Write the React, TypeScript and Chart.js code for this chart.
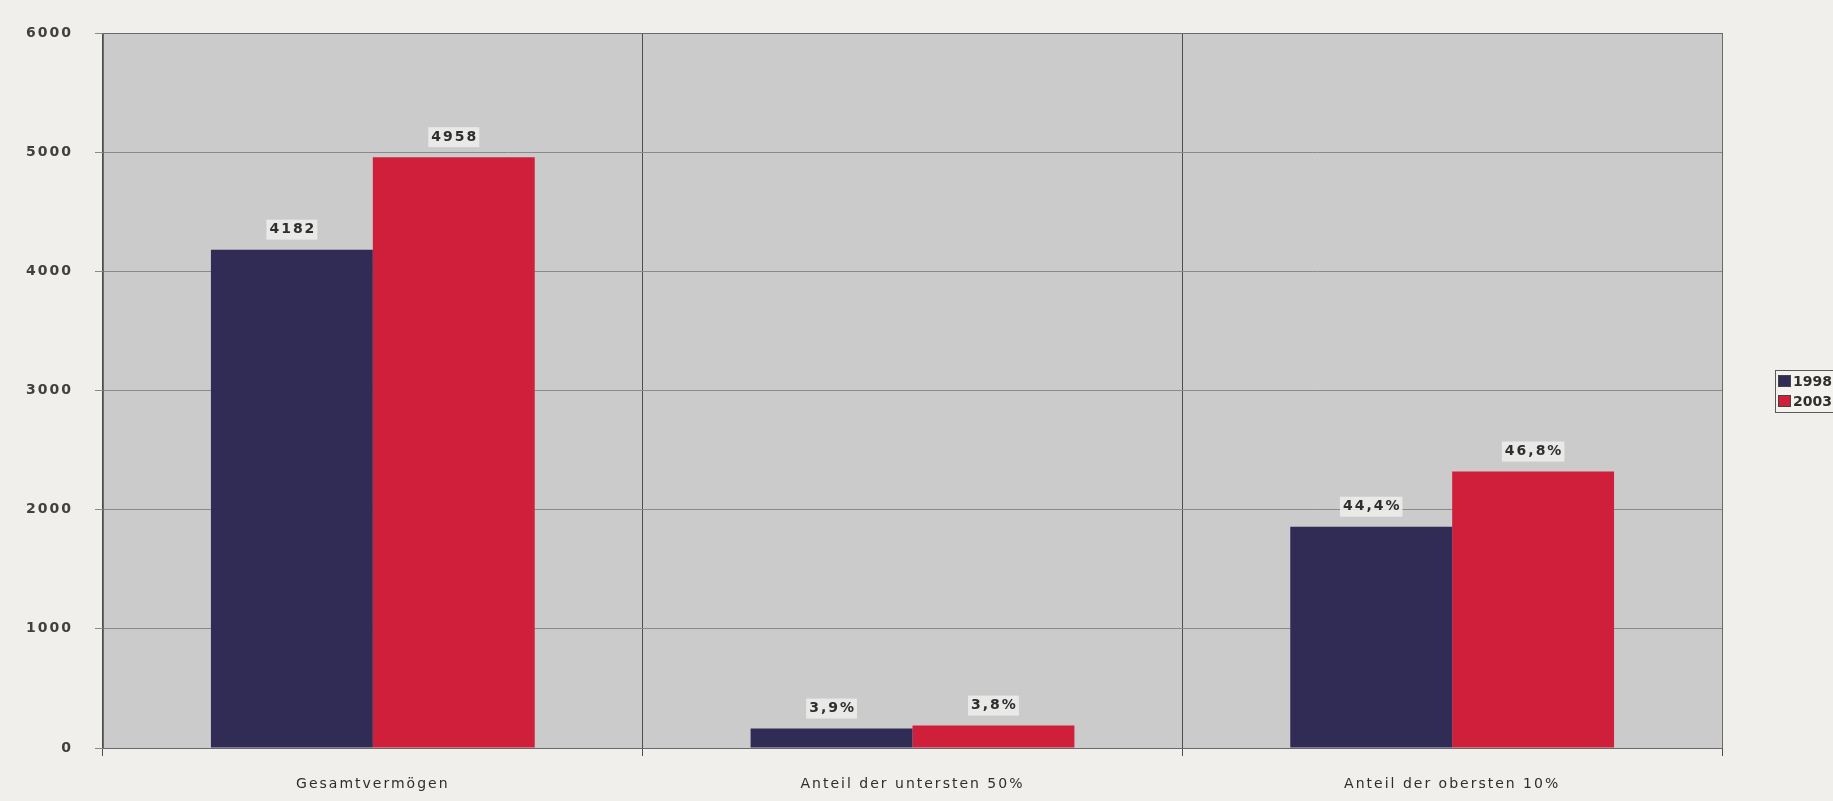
import { useEffect, useRef } from "react";
import { Chart, registerables } from "chart.js";

Chart.register(...registerables);

// Wealth totals and the share held by the bottom 50% / top 10%
const categories = ["Gesamtvermögen", "Anteil der untersten 50%", "Anteil der obersten 10%"];
const seriesNames = ["1998", "2003"];
const values1998 = [4182, 163, 1857];
const values2003 = [4958, 188, 2320];
const labels1998 = ["4182", "3,9%", "44,4%"];
const labels2003 = ["4958", "3,8%", "46,8%"];
const yMin = 0;
const yMax = 6000;
const yStep = 1000;

const COLOR_1998 = "#302c56";
const COLOR_2003 = "#cf1f3a";
const PAGE_BG = "#f0efeb";
const PLOT_BG = "#cbcbcb";
const TEXT = "#2e2e2e";
const FONT = "'DejaVu Sans', 'Liberation Sans', Arial, sans-serif";
const SPACING = "2px";

const valueLabels = [labels1998, labels2003];

const spacingPlugin = {
  id: "letterSpacing",
  beforeLayout(chart: any) {
    chart.ctx.letterSpacing = SPACING;
  },
  beforeDraw(chart: any) {
    chart.ctx.letterSpacing = SPACING;
  },
};

const backgroundPlugin = {
  id: "backgrounds",
  beforeDraw(chart: any) {
    const { ctx, chartArea, width, height } = chart;
    ctx.save();
    ctx.fillStyle = PAGE_BG;
    ctx.fillRect(0, 0, width, height);
    ctx.fillStyle = PLOT_BG;
    ctx.fillRect(chartArea.left, chartArea.top, chartArea.right - chartArea.left, chartArea.bottom - chartArea.top);
    ctx.restore();
  },
  afterDraw(chart: any) {
    const { ctx, chartArea } = chart;
    ctx.save();
    ctx.strokeStyle = "#6a6a6a";
    ctx.lineWidth = 1;
    ctx.strokeRect(chartArea.left + 0.5, chartArea.top + 0.5, chartArea.right - chartArea.left, chartArea.bottom - chartArea.top);
    ctx.restore();
  },
};

const valueLabelPlugin = {
  id: "valueLabels",
  afterDatasetsDraw(chart: any) {
    const { ctx } = chart;
    ctx.save();
    ctx.letterSpacing = SPACING;
    ctx.font = `bold 14px ${FONT}`;
    ctx.textAlign = "center";
    ctx.textBaseline = "middle";
    chart.data.datasets.forEach((_: any, i: number) => {
      const meta = chart.getDatasetMeta(i);
      meta.data.forEach((bar: any, j: number) => {
        const text = valueLabels[i][j];
        const w = ctx.measureText(text).width;
        const cx = bar.x + 1;
        const cy = bar.y - 20;
        ctx.fillStyle = "rgba(238,238,236,0.85)";
        ctx.fillRect(cx - w / 2 - 3, cy - 10, w + 4, 20);
        ctx.fillStyle = TEXT;
        ctx.fillText(text, cx, cy);
      });
    });
    ctx.restore();
  },
};

const legendPlugin = {
  id: "boxLegend",
  afterDraw(chart: any) {
    const { ctx } = chart;
    const x = 1775;
    const y = 370;
    ctx.save();
    ctx.letterSpacing = "0px";
    ctx.fillStyle = "#f3f2ee";
    ctx.fillRect(x, y, 80, 42);
    ctx.strokeStyle = "#5a5a5a";
    ctx.lineWidth = 1;
    ctx.strokeRect(x + 0.5, y + 0.5, 80, 42);
    ctx.font = `bold 14px ${FONT}`;
    ctx.textBaseline = "middle";
    ctx.textAlign = "left";
    chart.data.datasets.forEach((ds: any, i: number) => {
      const ry = y + 11 + i * 20;
      ctx.fillStyle = ds.backgroundColor;
      ctx.fillRect(x + 3, ry - 6, 13, 12);
      ctx.strokeStyle = "#444";
      ctx.strokeRect(x + 3.5, ry - 5.5, 12, 11);
      ctx.fillStyle = TEXT;
      ctx.fillText(ds.label, x + 18, ry + 1);
    });
    ctx.restore();
  },
};

export default function App() {
  const canvasRef = useRef<HTMLCanvasElement | null>(null);

  useEffect(() => {
    const canvas = canvasRef.current;
    if (!canvas) return;
    const chart = new Chart(canvas, {
      type: "bar",
      data: {
        labels: categories,
        datasets: [
          { label: seriesNames[0], data: values1998, backgroundColor: COLOR_1998 },
          { label: seriesNames[1], data: values2003, backgroundColor: COLOR_2003 },
        ],
      },
      options: {
        responsive: false,
        animation: false,
        devicePixelRatio: 1,
        layout: { padding: { top: 33, right: 111, bottom: 0, left: 0 } },
        datasets: { bar: { barPercentage: 1, categoryPercentage: 0.6 } },
        plugins: {
          legend: { display: false },
          tooltip: { enabled: false },
        },
        scales: {
          x: {
            afterFit(scale: any) {
              scale.height = 53;
            },
            grid: { offset: true, color: "#4d4d4d", lineWidth: 1, tickLength: 8 },
            border: { display: true, color: "#4d4d4d" },
            ticks: { color: TEXT, padding: 20, font: { family: FONT, size: 14 } },
          },
          y: {
            min: yMin,
            max: yMax,
            afterFit(scale: any) {
              scale.width = 103;
            },
            grid: { color: "#8a8a8a", lineWidth: 1, tickLength: 8 },
            border: { display: true, color: "#555555" },
            ticks: {
              stepSize: yStep,
              color: "#404040",
              padding: 22,
              font: { family: FONT, size: 14, weight: "bold" },
              callback: (v: any) => String(v),
            },
          },
        },
      },
      plugins: [spacingPlugin, backgroundPlugin, valueLabelPlugin, legendPlugin],
    } as any);
    return () => chart.destroy();
  }, []);

  return (
    <div style={{ position: "fixed", left: 0, top: 0, width: 1833, height: 801, background: PAGE_BG }}>
      <canvas ref={canvasRef} width={1833} height={801} style={{ display: "block" }} />
    </div>
  );
}
